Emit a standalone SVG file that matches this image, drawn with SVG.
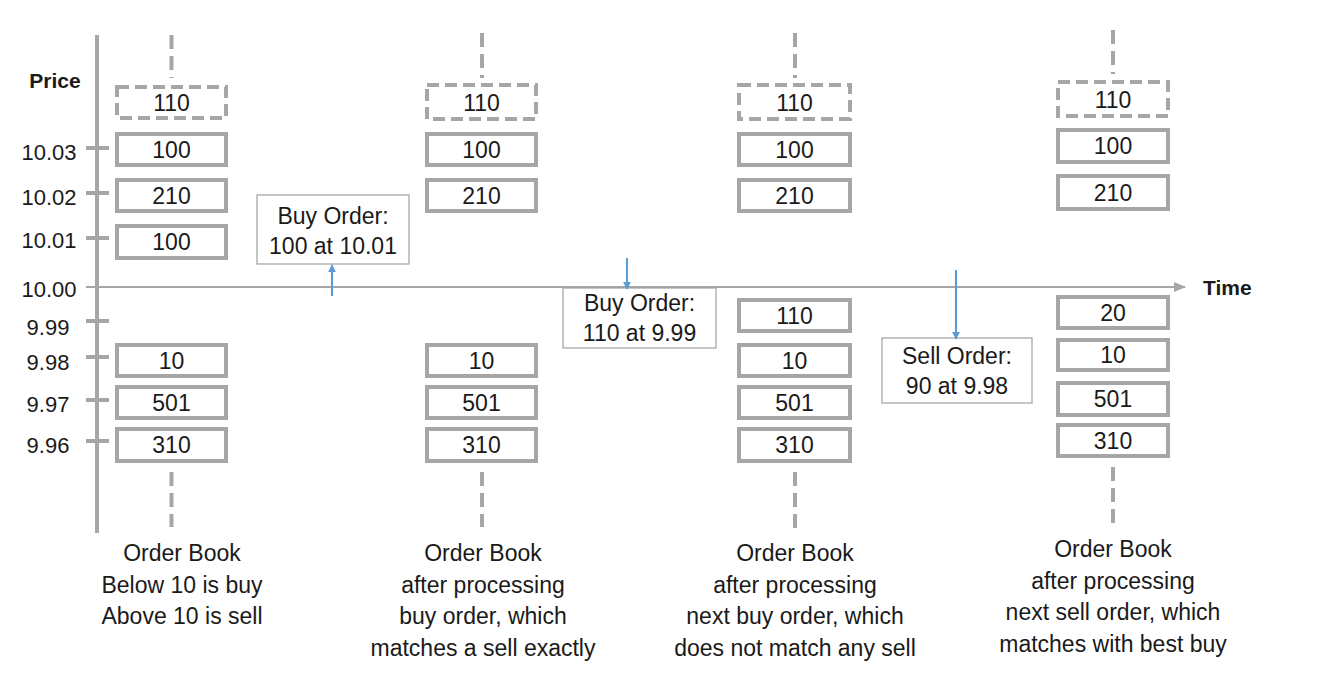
<svg xmlns="http://www.w3.org/2000/svg" width="1322" height="680" viewBox="0 0 1322 680">
<style>
text{font-family:"Liberation Sans",Arial,sans-serif;fill:#1a1a1a}
.lbl{font-size:22px;text-anchor:middle}
.num{font-size:23px;text-anchor:middle}
.cap{font-size:23px;text-anchor:middle}
.bold{font-weight:bold;font-size:21px}
.box{fill:#fff;stroke:#a6a6a6;stroke-width:4}
.dbox{fill:#fff;stroke:#a6a6a6;stroke-width:4;stroke-dasharray:12 6}
.dline{stroke:#a6a6a6;stroke-width:4;stroke-dasharray:14 7;fill:none}
.ord{fill:#fff;stroke:#a0a0a0;stroke-width:1.2}
.tick{stroke:#a6a6a6;stroke-width:4}
.blue{stroke:#5b9bd5;stroke-width:2;fill:none}
</style>
<defs>
<marker id="ah" viewBox="0 0 10 10" refX="9" refY="5" markerWidth="4" markerHeight="4" orient="auto"><path d="M0,0L10,5L0,10z" fill="#5b9bd5"/></marker>
<marker id="ag" viewBox="0 0 10 10" refX="9" refY="5" markerWidth="6" markerHeight="6" orient="auto" markerUnits="userSpaceOnUse"><path d="M0,0L10,5L0,10z" fill="#a6a6a6"/></marker>
<marker id="ag2" viewBox="0 0 12 10" refX="11" refY="5" markerWidth="12" markerHeight="10" orient="auto" markerUnits="userSpaceOnUse"><path d="M0,0L12,5L0,10z" fill="#a6a6a6"/></marker>
</defs>

<g id="axes">
<line x1="97" y1="35" x2="97" y2="533" stroke="#a6a6a6" stroke-width="4"/>
<line x1="86" y1="287" x2="1185" y2="287" stroke="#a6a6a6" stroke-width="2" marker-end="url(#ag2)"/>
<line class="tick" x1="86" y1="148" x2="109" y2="148"/>
<line class="tick" x1="86" y1="193" x2="109" y2="193"/>
<line class="tick" x1="86" y1="238" x2="109" y2="238"/>
<line class="tick" x1="86" y1="321" x2="109" y2="321"/>
<line class="tick" x1="86" y1="357" x2="109" y2="357"/>
<line class="tick" x1="86" y1="400" x2="109" y2="400"/>
<line class="tick" x1="86" y1="441" x2="109" y2="441"/>
<text class="bold" x="55" y="88" text-anchor="middle">Price</text>
<text class="bold" x="1203" y="295" font-size="22">Time</text>
<text class="lbl" x="49" y="160">10.03</text>
<text class="lbl" x="49" y="205">10.02</text>
<text class="lbl" x="49" y="248">10.01</text>
<text class="lbl" x="49" y="297">10.00</text>
<text class="lbl" x="48" y="335">9.99</text>
<text class="lbl" x="48" y="370">9.98</text>
<text class="lbl" x="48" y="412">9.97</text>
<text class="lbl" x="48" y="453">9.96</text>
</g>

<g id="book1">
<line class="dline" x1="171.5" y1="35" x2="171.5" y2="78"/>
<rect class="dbox" x="117" y="87" width="109" height="31"/><text class="num" x="171.5" y="110.5">110</text>
<rect class="box" x="117" y="134" width="109" height="31"/><text class="num" x="171.5" y="157.5">100</text>
<rect class="box" x="117" y="180" width="109" height="31"/><text class="num" x="171.5" y="203.5">210</text>
<rect class="box" x="117" y="226" width="109" height="32"/><text class="num" x="171.5" y="250">100</text>
<rect class="box" x="117" y="345" width="109" height="31"/><text class="num" x="171.5" y="368.5">10</text>
<rect class="box" x="117" y="387" width="109" height="31"/><text class="num" x="171.5" y="410.5">501</text>
<rect class="box" x="117" y="429" width="109" height="32"/><text class="num" x="171.5" y="453">310</text>
<line class="dline" x1="171.5" y1="472" x2="171.5" y2="527"/>
<text class="cap" x="182" y="561">Order Book</text>
<text class="cap" x="182" y="592.5">Below 10 is buy</text>
<text class="cap" x="182" y="624">Above 10 is sell</text>
</g>

<g id="book2">
<line class="dline" x1="482" y1="33" x2="482" y2="78"/>
<rect class="dbox" x="427" y="85" width="109" height="34"/><text class="num" x="481.5" y="110.5">110</text>
<rect class="box" x="427" y="134" width="109" height="31"/><text class="num" x="481.5" y="157.5">100</text>
<rect class="box" x="427" y="180" width="109" height="31"/><text class="num" x="481.5" y="203.5">210</text>
<rect class="box" x="427" y="345" width="109" height="31"/><text class="num" x="481.5" y="368.5">10</text>
<rect class="box" x="427" y="387" width="109" height="31"/><text class="num" x="481.5" y="410.5">501</text>
<rect class="box" x="427" y="429" width="109" height="32"/><text class="num" x="481.5" y="453">310</text>
<line class="dline" x1="482" y1="472" x2="482" y2="527"/>
<text class="cap" x="483" y="561">Order Book</text>
<text class="cap" x="483" y="592.5">after processing</text>
<text class="cap" x="483" y="624">buy order, which</text>
<text class="cap" x="483" y="655.5">matches a sell exactly</text>
</g>

<g id="book3">
<line class="dline" x1="795" y1="33" x2="795" y2="78"/>
<rect class="dbox" x="739" y="85" width="111" height="34"/><text class="num" x="794.5" y="110.5">110</text>
<rect class="box" x="739" y="134" width="111" height="31"/><text class="num" x="794.5" y="157.5">100</text>
<rect class="box" x="739" y="180" width="111" height="31"/><text class="num" x="794.5" y="203.5">210</text>
<rect class="box" x="739" y="300" width="111" height="31"/><text class="num" x="794.5" y="323.5">110</text>
<rect class="box" x="739" y="345" width="111" height="31"/><text class="num" x="794.5" y="368.5">10</text>
<rect class="box" x="739" y="387" width="111" height="31"/><text class="num" x="794.5" y="410.5">501</text>
<rect class="box" x="739" y="429" width="111" height="32"/><text class="num" x="794.5" y="453">310</text>
<line class="dline" x1="795" y1="472" x2="795" y2="528"/>
<text class="cap" x="795" y="561">Order Book</text>
<text class="cap" x="795" y="592.5">after processing</text>
<text class="cap" x="795" y="624">next buy order, which</text>
<text class="cap" x="795" y="655.5">does not match any sell</text>
</g>

<g id="book4">
<line class="dline" x1="1113" y1="30" x2="1113" y2="74"/>
<rect class="dbox" x="1058" y="82" width="110" height="34"/><text class="num" x="1113" y="107.5">110</text>
<rect class="box" x="1058" y="130" width="110" height="32"/><text class="num" x="1113" y="154">100</text>
<rect class="box" x="1058" y="176" width="110" height="33"/><text class="num" x="1113" y="200.5">210</text>
<rect class="box" x="1058" y="297" width="110" height="31"/><text class="num" x="1113" y="320.5">20</text>
<rect class="box" x="1058" y="340" width="110" height="30"/><text class="num" x="1113" y="363">10</text>
<rect class="box" x="1058" y="383" width="110" height="32"/><text class="num" x="1113" y="407">501</text>
<rect class="box" x="1058" y="425" width="110" height="31"/><text class="num" x="1113" y="448.5">310</text>
<line class="dline" x1="1113" y1="467" x2="1113" y2="523"/>
<text class="cap" x="1113" y="557">Order Book</text>
<text class="cap" x="1113" y="588.5">after processing</text>
<text class="cap" x="1113" y="620">next sell order, which</text>
<text class="cap" x="1113" y="651.5">matches with best buy</text>
</g>

<g id="order1">
<rect class="ord" x="257" y="195" width="152" height="69"/>
<text class="num" x="333" y="224">Buy Order:</text>
<text class="num" x="333" y="254">100 at 10.01</text>
</g>
<g id="order2">
<rect class="ord" x="563" y="288" width="153" height="60"/>
<text class="num" x="639.5" y="311">Buy Order:</text>
<text class="num" x="639.5" y="341">110 at 9.99</text>
</g>
<g id="order3">
<rect class="ord" x="882" y="338" width="150" height="65"/>
<text class="num" x="957" y="364">Sell Order:</text>
<text class="num" x="957" y="394">90 at 9.98</text>
</g>

<g id="connectors">
<line class="blue" x1="332" y1="296" x2="332" y2="265" marker-end="url(#ah)"/>
<line class="blue" x1="627" y1="258" x2="627" y2="289" marker-end="url(#ah)"/>
<line class="blue" x1="956" y1="270" x2="956" y2="339" marker-end="url(#ah)"/>
</g>
</svg>
